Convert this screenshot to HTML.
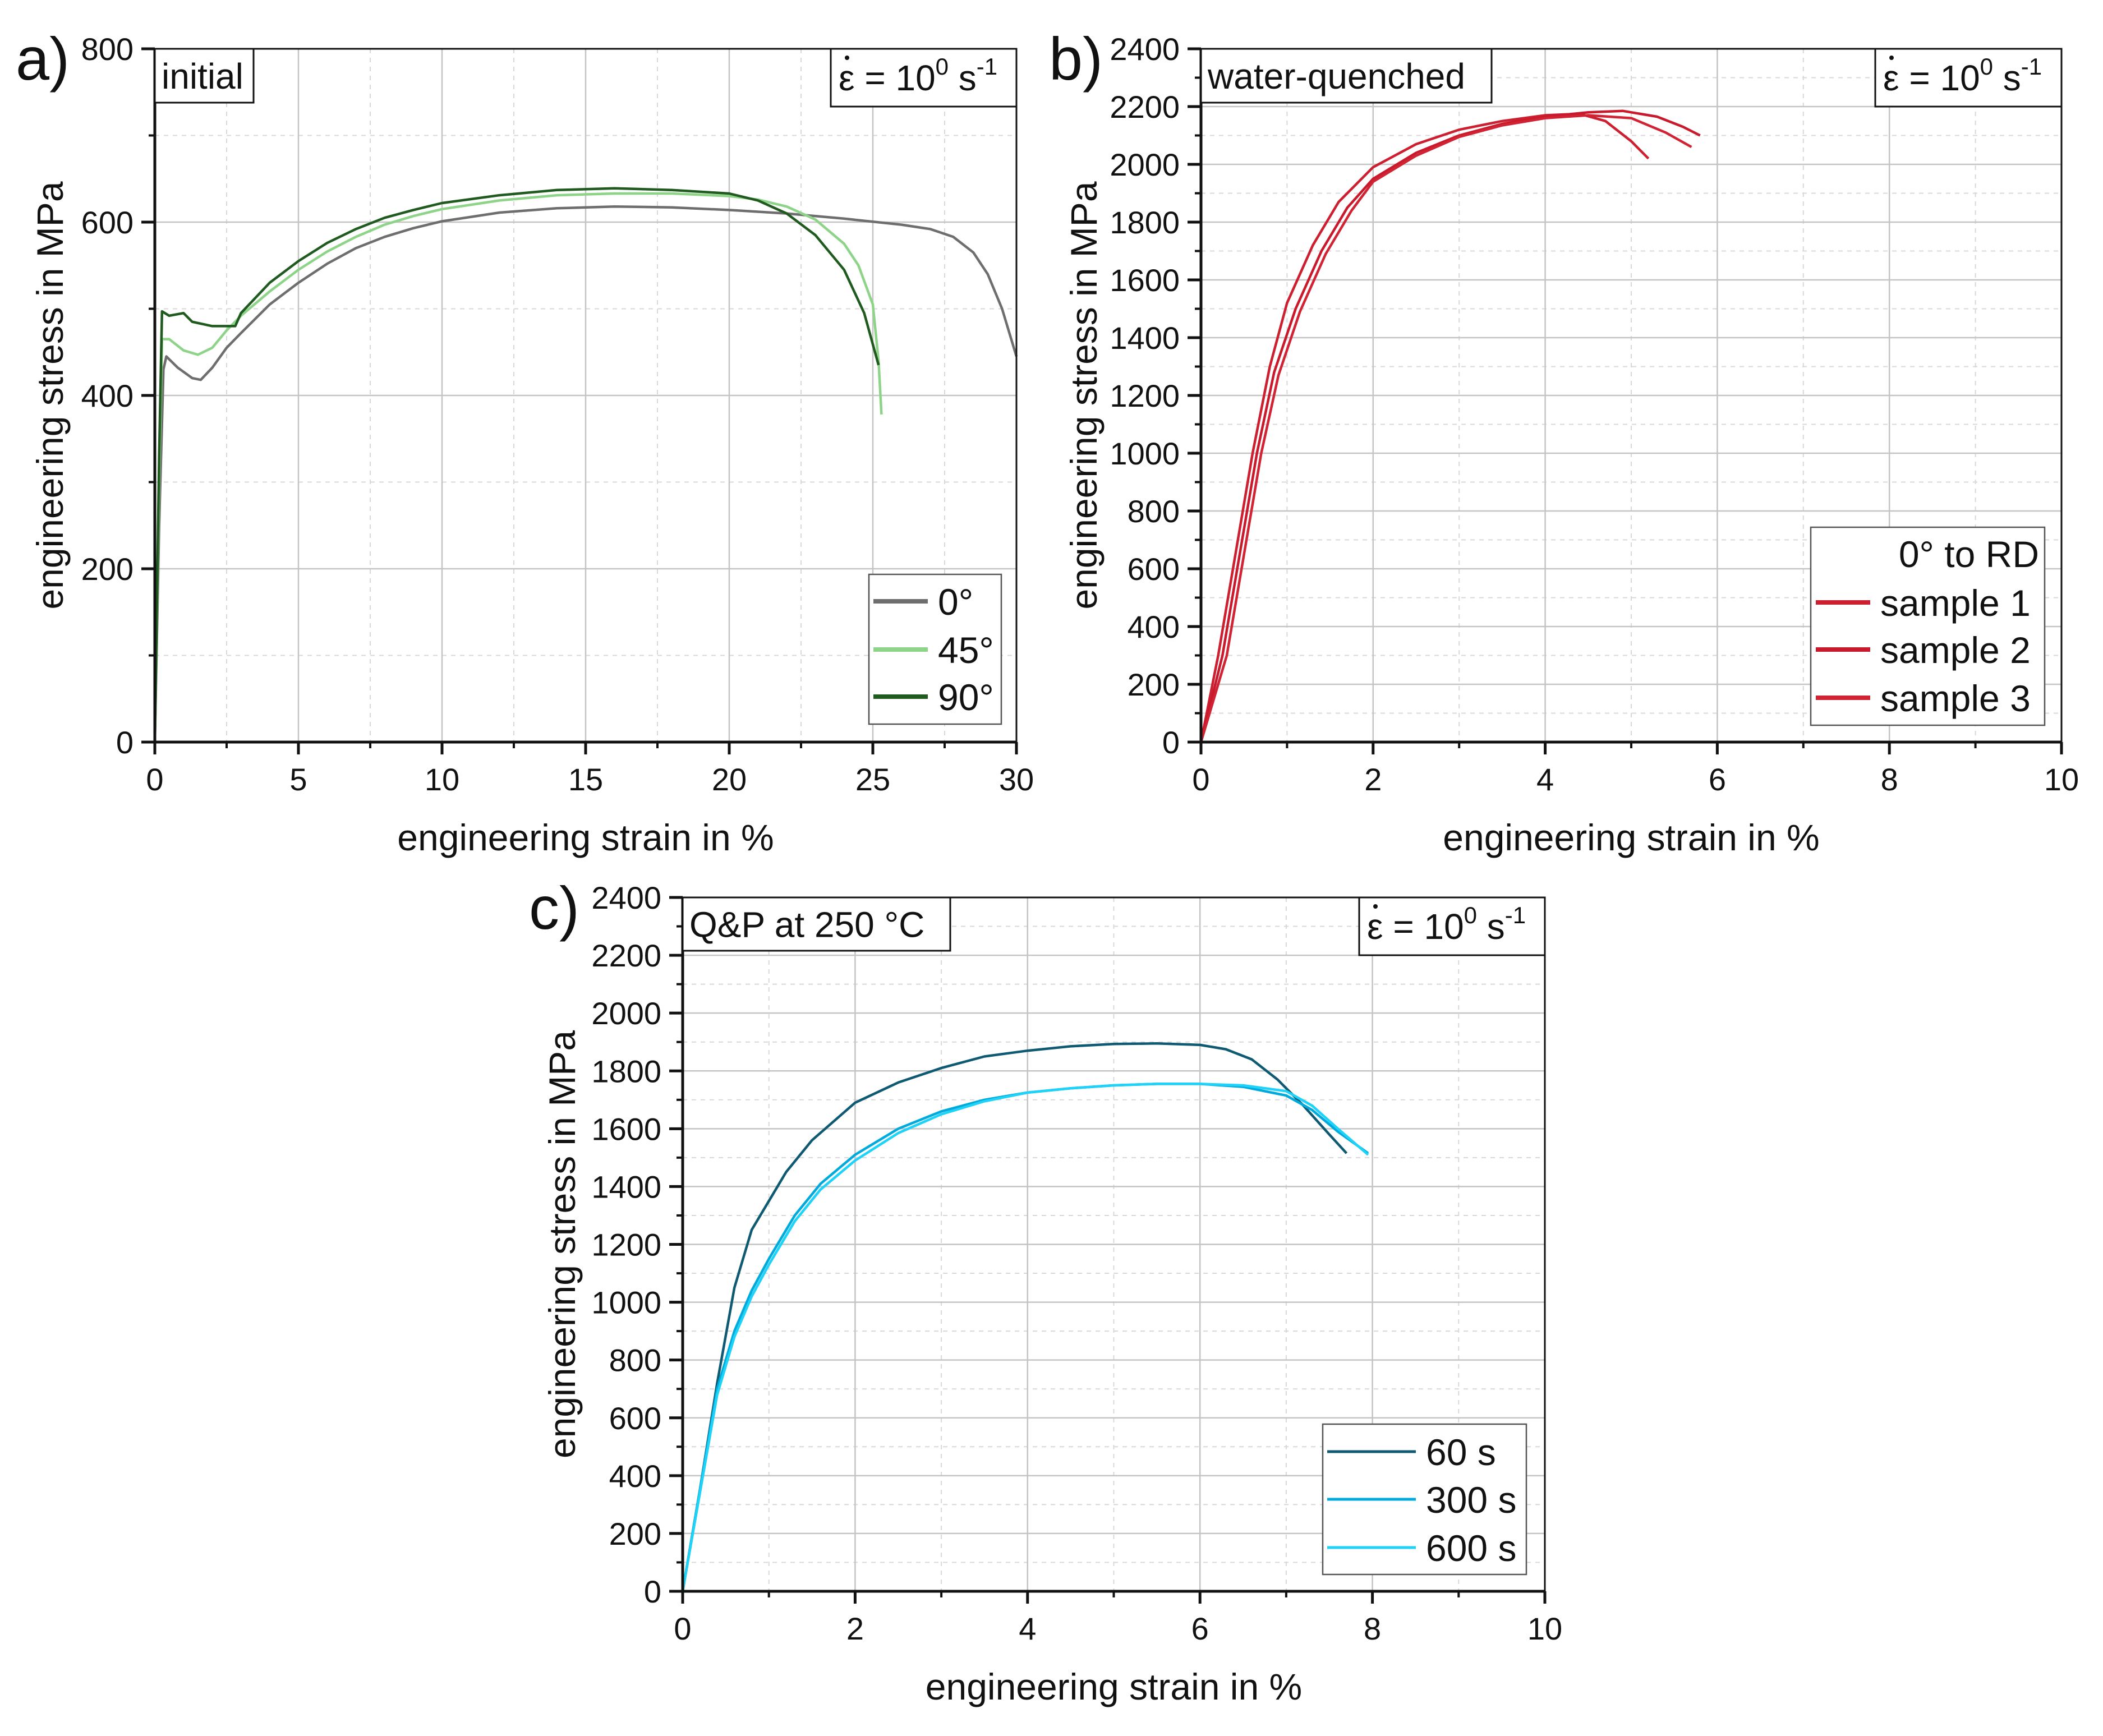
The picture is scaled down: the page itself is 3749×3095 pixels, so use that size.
<!DOCTYPE html>
<html><head><meta charset="utf-8"><style>
html,body{margin:0;padding:0;background:#fff}
svg{display:block}
text{font-family:"Liberation Sans",Arial,sans-serif;fill:#111}
</style></head><body>
<svg id="fig" width="3749" height="3095" viewBox="0 0 3749 3095" xmlns="http://www.w3.org/2000/svg">
<rect width="3749" height="3095" fill="#fff"/>
</svg>
<script>
// Panel a data
const aX0=[0,0.15,0.3,0.4,0.8,1.3,1.6,2,2.5,3,4,5,6,7,8,9,10,12,14,16,18,20,22,24,26,27,27.8,28.5,29,29.5,30];
const aY0=[0,250,430,445,432,420,418,432,455,472,505,530,552,570,583,593,601,611,616,618,617,614,610,604,597,592,583,565,540,500,445];
const aX45=[0,0.15,0.25,0.5,1,1.5,2,2.5,3,4,5,6,7,8,9,10,12,14,16,18,20,21,22,23,24,24.5,25,25.2,25.3];
const aY45=[0,300,465,465,452,447,455,475,492,520,545,566,583,597,607,615,625,631,633,633,630,626,618,603,575,550,505,440,378];
const aX90=[0,0.15,0.25,0.5,1,1.3,2,2.8,3,4,5,6,7,8,9,10,12,14,16,18,20,21,22,23,24,24.7,25.2];
const aY90=[0,330,497,492,495,485,480,480,495,530,555,576,592,605,614,622,631,637,639,637,633,625,610,585,545,495,435];
// Panel b data
const bX1=[0,0.2,0.4,0.6,0.8,1,1.3,1.6,2,2.5,3,3.5,4,4.4,4.7,5,5.2];
const bY1=[0,300,650,1000,1300,1520,1720,1870,1990,2070,2120,2150,2170,2175,2150,2080,2020];
const bX2=[0,0.25,0.45,0.65,0.85,1.1,1.4,1.7,2,2.5,3,3.5,4,4.5,4.9,5.3,5.6,5.8];
const bY2=[0,300,650,1000,1280,1500,1700,1850,1950,2040,2100,2140,2165,2180,2185,2165,2130,2100];
const bX3=[0,0.3,0.5,0.7,0.9,1.15,1.45,1.75,2,2.5,3,3.5,4,4.5,5,5.4,5.7];
const bY3=[0,300,650,1000,1270,1490,1690,1840,1940,2030,2095,2135,2160,2170,2160,2110,2060];
// Panel c data
const cX60=[0,0.2,0.4,0.6,0.8,1,1.2,1.5,2,2.5,3,3.5,4,4.5,5,5.5,6,6.3,6.6,6.9,7.2,7.5,7.7];
const cY60=[0,350,720,1050,1250,1350,1450,1560,1690,1760,1810,1850,1870,1885,1893,1895,1890,1875,1840,1770,1680,1580,1515];
const cX300=[0,0.2,0.4,0.6,0.8,1,1.3,1.6,2,2.5,3,3.5,4,4.5,5,5.5,6,6.5,7,7.3,7.6,7.95];
const cY300=[0,350,700,900,1040,1150,1300,1410,1510,1600,1660,1700,1725,1740,1750,1755,1755,1745,1715,1665,1590,1515];
const cX600=[0,0.2,0.4,0.6,0.8,1,1.3,1.6,2,2.5,3,3.5,4,4.5,5,5.5,6,6.5,7,7.3,7.6,7.95];
const cY600=[0,340,680,880,1020,1130,1280,1390,1490,1585,1650,1695,1725,1740,1750,1755,1755,1750,1730,1680,1600,1510];
const aXTicks=[0,5,10,15,20,25,30], aYTicks=[0,200,400,600,800];
const bXTicks=[0,2,4,6,8,10], bYTicks=[0,200,400,600,800,1000,1200,1400,1600,1800,2000,2200,2400];

const NS="http://www.w3.org/2000/svg";
const svg=document.getElementById('fig');
function mk(tag,attrs,parent,text){const e=document.createElementNS(NS,tag);for(const k in attrs)e.setAttribute(k,attrs[k]);if(text!==undefined)e.textContent=text;(parent||svg).appendChild(e);return e;}

function panel(o){
  const g=mk('g',{});
  
  
  const sx=v=>o.L+(v-o.xmin)/(o.xmax-o.xmin)*(o.R-o.L);
  const sy=v=>o.B-(v-o.ymin)/(o.ymax-o.ymin)*(o.B-o.T);
  for(let v=o.xmin;v<=o.xmax+1e-9;v+=o.xminor){if(Math.abs(v/o.xmajor-Math.round(v/o.xmajor))>1e-6){const l=mk('line',{x1:sx(v),x2:sx(v),y1:o.T,y2:o.B,stroke:'#d8d8d8','stroke-width':2,'stroke-dasharray':'8,8'},g);
    const t=mk('line',{x1:sx(v),x2:sx(v),y1:o.B,y2:o.B+11,stroke:'#111','stroke-width':4},g);}}
  for(let v=o.ymin;v<=o.ymax+1e-9;v+=o.yminor){if(Math.abs(v/o.ymajor-Math.round(v/o.ymajor))>1e-6){const l=mk('line',{x1:o.L,x2:o.R,y1:sy(v),y2:sy(v),stroke:'#d8d8d8','stroke-width':2,'stroke-dasharray':'8,8'},g);
    const t=mk('line',{x1:o.L-11,x2:o.L,y1:sy(v),y2:sy(v),stroke:'#111','stroke-width':4},g);}}
  o.xt.forEach(v=>{const l=mk('line',{x1:sx(v),x2:sx(v),y1:o.T,y2:o.B,stroke:'#c4c4c4','stroke-width':2.5},g);
    const t=mk('line',{x1:sx(v),x2:sx(v),y1:o.B,y2:o.B+22,stroke:'#111','stroke-width':5},g);
    const tx=mk('text',{x:sx(v),y:o.B+86,'font-size':56,'text-anchor':'middle'},g,String(v));});
  o.yt.forEach(v=>{const l=mk('line',{x1:o.L,x2:o.R,y1:sy(v),y2:sy(v),stroke:'#c4c4c4','stroke-width':2.5},g);
    const t=mk('line',{x1:o.L-24,x2:o.L,y1:sy(v),y2:sy(v),stroke:'#111','stroke-width':5},g);
    const tx=mk('text',{x:o.L-38,y:sy(v)+20,'font-size':56,'text-anchor':'end'},g,String(v));});
  o.series.forEach(s=>{const d=s.x.map((xv,i)=>(i?'L':'M')+sx(xv).toFixed(1)+','+sy(s.y[i]).toFixed(1)).join('');
    const p=mk('path',{d:d,fill:'none',stroke:s.color,'stroke-width':4.5,'stroke-linejoin':'round'},g);
    
    });
  const fr=mk('rect',{x:o.L,y:o.T,width:o.R-o.L,height:o.B-o.T,fill:'none',stroke:'#111','stroke-width':3},g);
  const ax=mk('line',{x1:o.L-2,x2:o.R,y1:o.B,y2:o.B,stroke:'#111','stroke-width':5},g);
  const ay=mk('line',{x1:o.L,x2:o.L,y1:o.T,y2:o.B+2,stroke:'#111','stroke-width':5},g);
  const xt=mk('text',{x:(o.L+o.R)/2,y:o.B+193,'font-size':66,'text-anchor':'middle'},g,'engineering strain in %');
  const yc=(o.T+o.B)/2;
  const yt=mk('text',{x:o.ytx,y:yc,'font-size':66,'text-anchor':'middle',transform:`rotate(-90 ${o.ytx} ${yc})`},g,'engineering stress in MPa');
  const pl=mk('text',{x:o.lx,y:o.ly,'font-size':108},g,o.letter);
  const ib=mk('g',{},g);
  mk('rect',{x:o.L,y:o.T,width:o.infoW,height:o.infoH,fill:'#fff',stroke:'#111','stroke-width':3},ib);
  mk('text',{x:o.L+12,y:o.T+o.infoH/2+23,'font-size':64},ib,o.info);
  const rb=mk('g',{},g);
  const bw=o.R-o.rateX;
  mk('rect',{x:o.rateX,y:o.T,width:bw,height:o.rateH,fill:'#fff',stroke:'#111','stroke-width':3},rb);
  const rt=mk('text',{x:o.rateX+14,y:o.T+74,'font-size':64},rb);
  mk('tspan',{},rt,'ε = 10');
  mk('tspan',{dy:-28,'font-size':42},rt,'0');
  mk('tspan',{dy:28},rt,' s');
  mk('tspan',{dy:-28,'font-size':42},rt,'-1');
  mk('circle',{cx:o.rateX+29,cy:o.T+16,r:4,fill:'#111'},rb);
  const lg=mk('g',{},g);
  mk('rect',{x:o.lg.x,y:o.lg.y,width:o.lg.w,height:o.lg.h,fill:'#fff',stroke:'#555','stroke-width':2.5},lg);
  if(o.lg.head){mk('text',{x:o.lg.x+o.lg.w-10,y:o.lg.headY+24,'font-size':66,'text-anchor':'end'},lg,o.lg.head);}
  o.series.forEach((s,i)=>{const e=mk('g',{},lg);
    
    
    const yy=o.lg.rows[i];
    mk('line',{x1:o.lg.lx1,x2:o.lg.lx2,y1:yy,y2:yy,stroke:s.color,'stroke-width':o.lg.lw},e);
    mk('text',{x:o.lg.tx,y:yy+24,'font-size':66},e,s.label);});
}

panel({name:'initial',L:276,R:1812,T:87,B:1323,xmin:0,xmax:30,ymin:0,ymax:800,xmajor:5,xminor:2.5,ymajor:200,yminor:100,xt:aXTicks,yt:aYTicks,
  ytx:112,lx:28,ly:142,letter:'a)',info:'initial',infoW:176,infoH:96,rateX:1481,rateH:103,
  series:[{name:'series-0deg',label:'0°',color:'#6e6e6e',x:aX0,y:aY0},{name:'series-45deg',label:'45°',color:'#8ed488',x:aX45,y:aY45},{name:'series-90deg',label:'90°',color:'#1f5a1f',x:aX90,y:aY90}],
  lg:{x:1549,y:1024,w:236,h:267,rows:[1072,1158,1242],lx1:1557,lx2:1654,tx:1672,lw:8}});
panel({name:'water-quenched',L:2141,R:3675,T:87,B:1323,xmin:0,xmax:10,ymin:0,ymax:2400,xmajor:2,xminor:1,ymajor:200,yminor:100,xt:bXTicks,yt:bYTicks,
  ytx:1955,lx:1870,ly:142,letter:'b)',info:'water-quenched',infoW:518,infoH:96,rateX:3343,rateH:103,
  series:[{name:'series-sample-1',label:'sample 1',color:'#cc1f30',x:bX1,y:bY1},{name:'series-sample-2',label:'sample 2',color:'#c81a2c',x:bX2,y:bY2},{name:'series-sample-3',label:'sample 3',color:'#d02434',x:bX3,y:bY3}],
  lg:{x:3228,y:940,w:417,h:353,head:'0° to RD',headY:987,rows:[1074,1158,1244],lx1:3237,lx2:3334,tx:3352,lw:8}});
panel({name:'qp-250',L:1217,R:2754,T:1600,B:2837,xmin:0,xmax:10,ymin:0,ymax:2400,xmajor:2,xminor:1,ymajor:200,yminor:100,xt:bXTicks,yt:bYTicks,
  ytx:1025,lx:943,ly:1656,letter:'c)',info:'Q&P at 250 °C',infoW:477,infoH:95,rateX:2423,rateH:103,
  series:[{name:'series-60s',label:'60 s',color:'#0e5a72',x:cX60,y:cY60},{name:'series-300s',label:'300 s',color:'#00aadc',x:cX300,y:cY300},{name:'series-600s',label:'600 s',color:'#1ed2f8',x:cX600,y:cY600}],
  lg:{x:2358,y:2539,w:363,h:268,rows:[2588,2673,2759],lx1:2366,lx2:2524,tx:2542,lw:5}});
</script>
</body></html>
